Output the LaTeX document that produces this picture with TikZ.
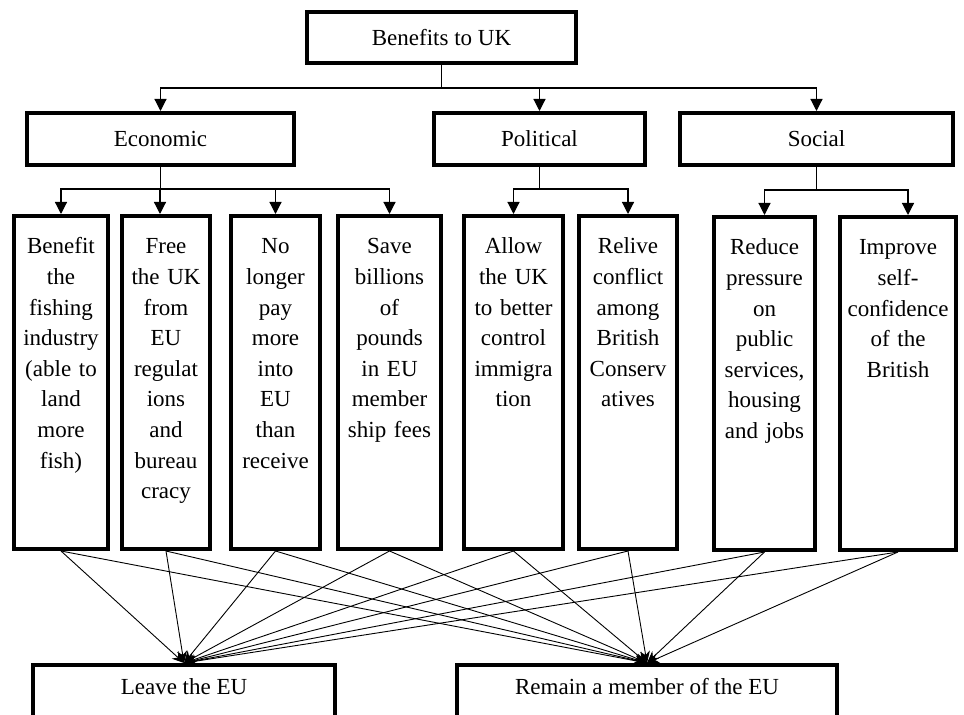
\documentclass[tikz,border=0pt]{standalone}
\usepackage{fontspec}
\setmainfont{Liberation Serif}
\usetikzlibrary{arrows.meta}

\tikzset{
  head/.style={draw, line width=2pt, font=\fontsize{11.5}{14}\selectfont},
  col/.style={draw, line width=2pt, anchor=north, align=center, text width=#1,
    inner xsep=2pt, inner ysep=10pt, text height=9pt, text depth=137.5pt,
    font=\fontsize{11.5}{15.3}\selectfont},
  vote/.style={draw, line width=2pt, anchor=north, inner ysep=0pt, text height=15pt,
    text depth=20pt, font=\fontsize{11.5}{14}\selectfont},
  down/.style={-{Triangle[length=6pt,width=6pt]}, line width=0.6pt},
  pick/.style={-{Stealth[length=6pt,width=5pt]}, line width=0.45pt}
}

\begin{document}
\begin{tikzpicture}[x=0.5pt, y=-0.5pt]
    \useasboundingbox[fill=white] (0,0) rectangle (964,715);

    \node[head, minimum width=134.5pt, minimum height=25.5pt] (top) at (441.5,37.5) {Benefits to UK};
    \node[head, minimum width=133.5pt, minimum height=26pt] (eco) at (160.5,139) {Economic};
    \node[head, minimum width=105.5pt, minimum height=26pt] (pol) at (539.5,139) {Political};
    \node[head, minimum width=136.5pt, minimum height=26pt] (soc) at (816.5,139) {Social};

    \node[col=43pt] (b1) at (61,214) {Benefit\\the\\fishing\\industry\\(able to\\land\\more\\fish)};
    \node[col=40pt] (b2) at (166,214) {Free\\the UK\\from\\EU\\regulat\\ions\\and\\bureau\\cracy};
    \node[col=40.5pt] (b3) at (275.5,214) {No\\longer\\pay\\more\\into\\EU\\than\\receive};
    \node[col=47.5pt] (b4) at (389.5,214) {Save\\billions\\of\\pounds\\in EU\\member\\ship fees};
    \node[col=45.5pt] (b5) at (513.5,214) {Allow\\the UK\\to better\\control\\immigra\\tion};
    \node[col=45pt] (b6) at (628,214) {Relive\\conflict\\among\\British\\Conserv\\atives};
    \node[col=46.5pt] (b7) at (764.5,215) {Reduce\\pressure\\on\\public\\services,\\housing\\and jobs};
    \node[col=54pt] (b8) at (898,215) {Improve\\self-\\confidence\\of the\\British};

    \node[vote, minimum width=151pt] (leave) at (184,663) {Leave the EU};
    \node[vote, minimum width=190pt] (remain) at (647,663) {Remain a member of the EU};

    \coordinate (hub) at (441.5,88);
    \draw[line width=0.6pt] (top.south) -- (hub);
    \draw[down] (hub) -| (eco.north);
    \draw[down] (hub) -| (pol.north);
    \draw[down] (hub) -| (soc.north);

    \coordinate (ecohub) at (eco.south |- 0,189);
    \coordinate (polhub) at (pol.south |- 0,189);
    \coordinate (sochub) at (soc.south |- 0,190);
    \draw[line width=0.6pt] (eco.south) -- (ecohub);
    \draw[line width=0.6pt] (pol.south) -- (polhub);
    \draw[line width=0.6pt] (soc.south) -- (sochub);
    \draw[down] (ecohub) -| (b1.north);
    \draw[down] (ecohub) -| ([xshift=-3pt]b2.north);
    \draw[down] (ecohub) -| (b3.north);
    \draw[down] (ecohub) -| (b4.north);
    \draw[down] (polhub) -| (b5.north);
    \draw[down] (polhub) -| (b6.north);
    \draw[down] (sochub) -| (b7.north);
    \draw[down] (sochub) -| ([xshift=5pt]b8.north);

    \foreach \i in {1,...,8} {
        \draw[pick] (b\i.south) -- (leave.north);
        \draw[pick] (b\i.south) -- (remain.north);
    }

\end{tikzpicture}
\end{document}
